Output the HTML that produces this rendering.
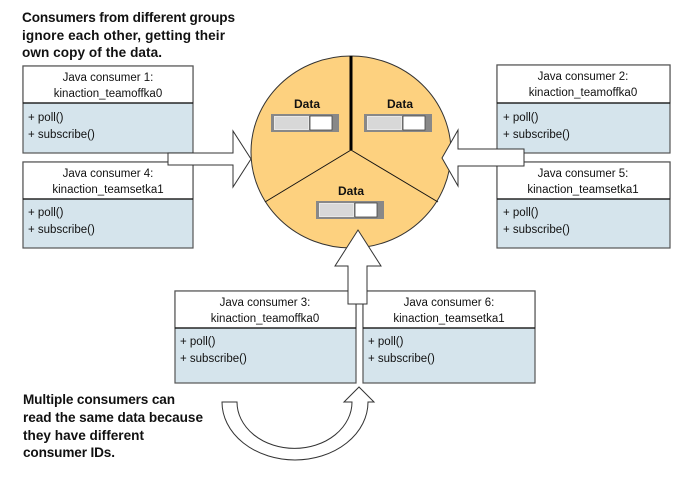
<!DOCTYPE html>
<html><head><meta charset="utf-8"><style>
body{margin:0;background:#fff;width:690px;height:472px;overflow:hidden}
</style></head><body>
<svg width="690" height="472" viewBox="0 0 690 472" xmlns="http://www.w3.org/2000/svg" font-family="Liberation Sans, sans-serif">
<g font-weight="bold" font-size="13.6" fill="#111">
<text x="22" y="22" textLength="213">Consumers from different groups</text>
<text x="22" y="40" textLength="203">ignore each other, getting their</text>
<text x="22" y="57" textLength="140">own copy of the data.</text>
<text x="23" y="404" textLength="152">Multiple consumers can</text>
<text x="23" y="422" textLength="180">read the same data because</text>
<text x="23" y="440" textLength="121">they have different</text>
<text x="23" y="457" textLength="92">consumer IDs.</text>
</g>
<ellipse cx="351" cy="152" rx="100" ry="96" fill="#fdd17f" stroke="#333" stroke-width="1"/>
<line x1="351" y1="56" x2="351" y2="150" stroke="#000" stroke-width="3"/>
<line x1="351" y1="150" x2="265" y2="202" stroke="#111" stroke-width="1"/>
<line x1="351" y1="150" x2="438" y2="202" stroke="#111" stroke-width="1"/>
<g font-weight="bold" font-size="12" fill="#111" text-anchor="middle">
<text x="307" y="108">Data</text><text x="400" y="108">Data</text><text x="351" y="195">Data</text>
</g>
<defs><g id="disk">
<rect x="0" y="0" width="68" height="18" fill="#888"/>
<rect x="3" y="2" width="35" height="14" fill="#e8e8e8"/>
<g stroke="#aaa" stroke-width="0.6"><line x1="4" y1="4" x2="37" y2="4"/><line x1="4" y1="6" x2="37" y2="6"/><line x1="4" y1="8" x2="37" y2="8"/><line x1="4" y1="10" x2="37" y2="10"/><line x1="4" y1="12" x2="37" y2="12"/><line x1="4" y1="14" x2="37" y2="14"/></g>
<rect x="39" y="2" width="22" height="14" fill="#fff" stroke="#444" stroke-width="0.8"/>
</g></defs>
<use href="#disk" x="271" y="114"/><use href="#disk" x="364" y="114"/><use href="#disk" x="316" y="201"/>
<g stroke="#555" stroke-width="1.2" font-size="11.5" fill="#111">
<g>
<rect x="23" y="66" width="170" height="87" fill="#d5e4ec"/><rect x="23" y="66" width="170" height="37" fill="#fff"/><line x1="23" y1="103" x2="193" y2="103" stroke="#111"/>
<rect x="23" y="162" width="170" height="86" fill="#d5e4ec"/><rect x="23" y="162" width="170" height="37" fill="#fff"/><line x1="23" y1="199" x2="193" y2="199" stroke="#111"/>
<rect x="497" y="65" width="173" height="88" fill="#d5e4ec"/><rect x="497" y="65" width="173" height="38" fill="#fff"/><line x1="497" y1="103" x2="670" y2="103" stroke="#111"/>
<rect x="497" y="162" width="173" height="86" fill="#d5e4ec"/><rect x="497" y="162" width="173" height="37" fill="#fff"/><line x1="497" y1="199" x2="670" y2="199" stroke="#111"/>
<rect x="175" y="291" width="181" height="92" fill="#d5e4ec"/><rect x="175" y="291" width="181" height="37" fill="#fff"/><line x1="175" y1="328" x2="356" y2="328" stroke="#111"/>
<rect x="363" y="291" width="172" height="92" fill="#d5e4ec"/><rect x="363" y="291" width="172" height="37" fill="#fff"/><line x1="363" y1="328" x2="535" y2="328" stroke="#111"/>
</g>
<g stroke="none" text-anchor="middle">
<text x="108" y="81">Java consumer 1:</text><text x="108" y="97">kinaction_teamoffka0</text>
<text x="108" y="177">Java consumer 4:</text><text x="108" y="193">kinaction_teamsetka1</text>
<text x="583" y="80">Java consumer 2:</text><text x="583" y="96">kinaction_teamoffka0</text>
<text x="583" y="177">Java consumer 5:</text><text x="583" y="193">kinaction_teamsetka1</text>
<text x="265" y="306">Java consumer 3:</text><text x="265" y="322">kinaction_teamoffka0</text>
<text x="449" y="306">Java consumer 6:</text><text x="449" y="322">kinaction_teamsetka1</text>
</g>
<g stroke="none">
<text x="28" y="121">+ poll()</text><text x="28" y="138">+ subscribe()</text>
<text x="28" y="216">+ poll()</text><text x="28" y="233">+ subscribe()</text>
<text x="503" y="121">+ poll()</text><text x="503" y="138">+ subscribe()</text>
<text x="503" y="216">+ poll()</text><text x="503" y="233">+ subscribe()</text>
<text x="180" y="345">+ poll()</text><text x="180" y="362">+ subscribe()</text>
<text x="368" y="345">+ poll()</text><text x="368" y="362">+ subscribe()</text>
</g>
</g>
<g fill="#fff" stroke="#333" stroke-width="1">
<polygon points="168,153 233,153 233,131 251,159 233,187 233,165 168,165"/>
<polygon points="524,149 458,149 458,130 442,158 458,186 458,166 524,166"/>
<polygon points="348,304 348,266 335,266 358,230 381,266 367,266 367,304"/>
<path d="M222,402 A73,58 0 0 0 368,402 L374,402 L359,387 L344,402 L352,402 A57,46 0 0 1 237,402 Z"/>
</g>
</svg>
</body></html>
